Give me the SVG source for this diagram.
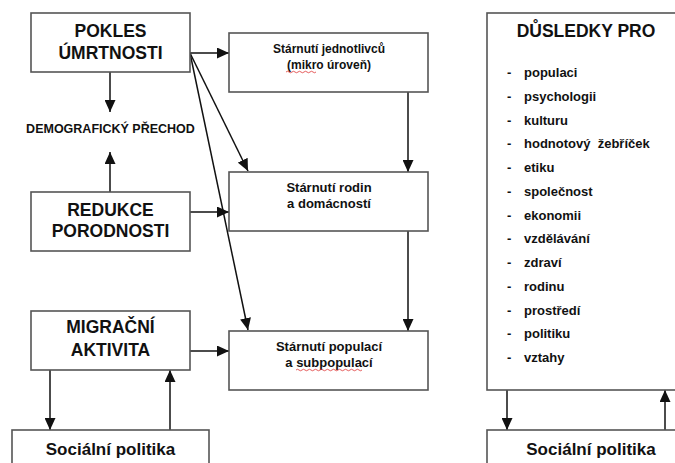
<svg xmlns="http://www.w3.org/2000/svg" width="675" height="463" viewBox="0 0 675 463">
<style>
.box{fill:#fff;stroke:#555;stroke-width:1.6}
.big{font-family:"Liberation Sans",Arial,sans-serif;font-weight:bold;font-size:17.5px;fill:#111;text-anchor:middle}
.mid{font-family:"Liberation Sans",Arial,sans-serif;font-weight:bold;font-size:13px;fill:#111;text-anchor:middle}
.li{font-family:"Liberation Sans",Arial,sans-serif;font-weight:bold;font-size:13px;fill:#111}
.c{stroke:#111;stroke-width:1.5;fill:none;marker-end:url(#ah)}
.sq{stroke:#d33;stroke-width:0.8;fill:none}
</style>
<defs>
<marker id="ah" markerUnits="userSpaceOnUse" markerWidth="12" markerHeight="11" refX="12" refY="5.5" orient="auto">
<path d="M0,0 L12,5.5 L0,11 z" fill="#111"/>
</marker>
</defs>
<g id="connectors">
<line class="c" x1="190" y1="53" x2="229" y2="53"/>
<line class="c" x1="190" y1="53" x2="248" y2="171"/>
<line class="c" x1="190" y1="53" x2="248" y2="330"/>
<line class="c" x1="110" y1="72" x2="110" y2="112"/>
<line class="c" x1="110" y1="192" x2="110" y2="152"/>
<line class="c" x1="190" y1="212" x2="229" y2="212"/>
<line class="c" x1="190" y1="351" x2="229" y2="351"/>
<line class="c" x1="408" y1="92" x2="408" y2="172"/>
<line class="c" x1="408" y1="231" x2="408" y2="331"/>
<line class="c" x1="50" y1="370" x2="50" y2="430"/>
<line class="c" x1="170" y1="430" x2="170" y2="370"/>
<line class="c" x1="507" y1="390" x2="507" y2="430"/>
<line class="c" x1="665" y1="430" x2="665" y2="390"/>
</g>
<g id="pokles">
<rect class="box" x="31" y="13" width="159" height="59"/>
<text class="big" x="110.5" y="37">POKLES</text>
<text class="big" x="110.5" y="59">ÚMRTNOSTI</text>
</g>
<g id="demograficky">
<text class="mid" x="110.5" y="133" style="font-size:12.5px">DEMOGRAFICKÝ PŘECHOD</text>
</g>
<g id="redukce">
<rect class="box" x="31" y="192" width="159" height="59"/>
<text class="big" x="110.5" y="216">REDUKCE</text>
<text class="big" x="110.5" y="237">PORODNOSTI</text>
</g>
<g id="migracni">
<rect class="box" x="31" y="311" width="159" height="59"/>
<text class="big" x="110.5" y="333">MIGRAČNÍ</text>
<text class="big" x="110.5" y="356">AKTIVITA</text>
</g>
<g id="socialni-left">
<rect class="box" x="12" y="430" width="197" height="50"/>
<text class="big" x="110.5" y="455" style="font-size:17px">Sociální politika</text>
</g>
<g id="jednotlivcu">
<rect class="box" x="229" y="33" width="199" height="59"/>
<text class="mid" x="329" y="53" style="font-size:12px">Stárnutí jednotlivců</text>
<text class="mid" x="329" y="69" style="font-size:12px">(mikro úroveň)</text>
<path class="sq" d="M286,72 q1.5,-1.5 3,0 t3,0 t3,0 t3,0 t3,0 t3,0 t3,0 t3,0 t3,0 t3,0"/>
</g>
<g id="rodin">
<rect class="box" x="229" y="172" width="199" height="59"/>
<text class="mid" x="329" y="192">Stárnutí rodin</text>
<text class="mid" x="329" y="208">a domácností</text>
</g>
<g id="populaci">
<rect class="box" x="229" y="331" width="199" height="59"/>
<text class="mid" x="329" y="351">Stárnutí populací</text>
<text class="mid" x="329" y="367">a subpopulací</text>
<path class="sq" d="M296,370 q1.5,-1.5 3,0 t3,0 t3,0 t3,0 t3,0 t3,0 t3,0 t3,0 t3,0 t3,0 t3,0 t3,0 t3,0 t3,0 t3,0 t3,0 t3,0 t3,0 t3,0 t3,0 t3,0 t3,0"/>
</g>
<g id="dusledky">
<rect class="box" x="487" y="13" width="210" height="377"/>
<text class="big" x="586" y="37">DŮSLEDKY PRO</text>
<g class="li">
<text x="507" y="77">-</text><text x="524" y="77">populaci</text>
<text x="507" y="100.8">-</text><text x="524" y="100.8">psychologii</text>
<text x="507" y="124.5">-</text><text x="524" y="124.5">kulturu</text>
<text x="507" y="148.3">-</text><text x="524" y="148.3" xml:space="preserve">hodnotový  žebříček</text>
<text x="507" y="172">-</text><text x="524" y="172">etiku</text>
<text x="507" y="195.8">-</text><text x="524" y="195.8">společnost</text>
<text x="507" y="219.5">-</text><text x="524" y="219.5">ekonomii</text>
<text x="507" y="243.3">-</text><text x="524" y="243.3">vzdělávání</text>
<text x="507" y="267">-</text><text x="524" y="267">zdraví</text>
<text x="507" y="290.8">-</text><text x="524" y="290.8">rodinu</text>
<text x="507" y="314.5">-</text><text x="524" y="314.5">prostředí</text>
<text x="507" y="338.3">-</text><text x="524" y="338.3">politiku</text>
<text x="507" y="362">-</text><text x="524" y="362">vztahy</text>
</g>
</g>
<g id="socialni-right">
<rect class="box" x="487" y="430" width="210" height="50"/>
<text class="big" x="591" y="455" style="font-size:17px">Sociální politika</text>
</g>
</svg>
